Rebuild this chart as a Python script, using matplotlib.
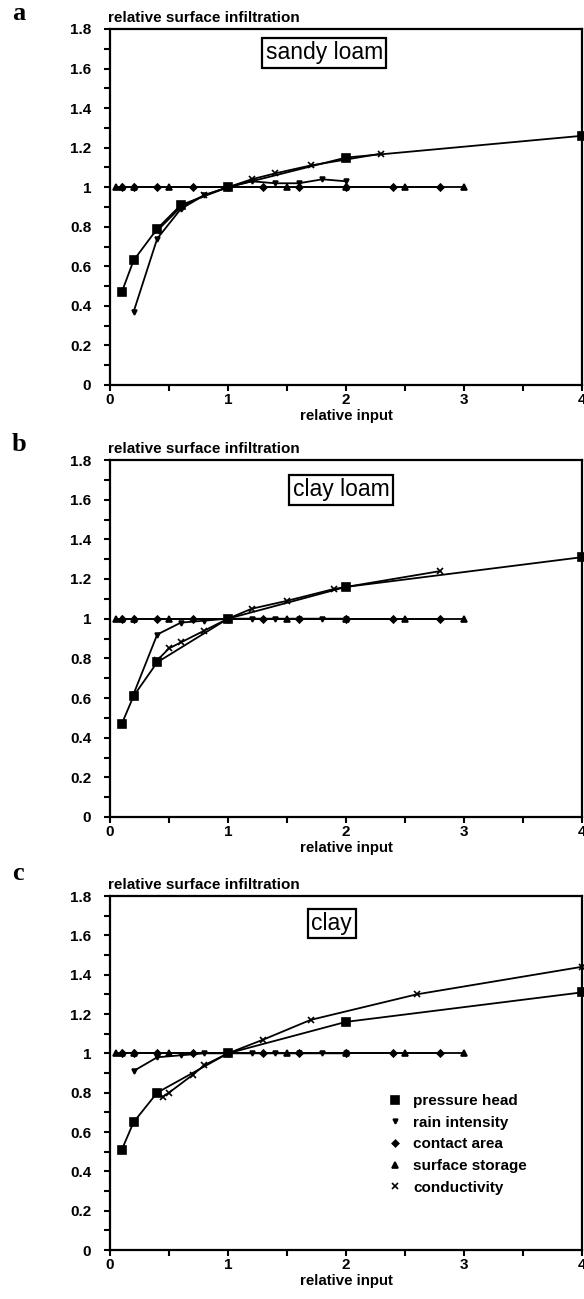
import matplotlib
matplotlib.use("Agg")
import matplotlib.pyplot as plt
from matplotlib.ticker import MultipleLocator, FixedLocator
from matplotlib.lines import Line2D

plt.rcParams['font.family'] = ['Liberation Sans', 'DejaVu Sans']

# ---------------- data ----------------
soils = ["sandy loam", "clay loam", "clay"]
panel_letters = ["a", "b", "c"]
series_names = ["pressure head", "rain intensity", "contact area", "surface storage", "conductivity"]

# panel a : sandy loam
a_pressure_x = [0.1, 0.2, 0.4, 0.6, 1.0, 2.0, 4.0]
a_pressure_y = [0.47, 0.63, 0.79, 0.91, 1.0, 1.15, 1.26]
a_rain_x = [0.2, 0.4, 0.6, 0.8, 1.0, 1.2, 1.4, 1.6, 1.8, 2.0]
a_rain_y = [0.37, 0.74, 0.89, 0.96, 1.0, 1.03, 1.02, 1.02, 1.04, 1.03]
a_contact_x = [0.1, 0.2, 0.4, 0.7, 1.0, 1.3, 1.6, 2.0, 2.4, 2.8]
a_contact_y = [1.0, 1.0, 1.0, 1.0, 1.0, 1.0, 1.0, 1.0, 1.0, 1.0]
a_storage_x = [0.05, 0.1, 0.2, 0.5, 1.0, 1.5, 2.0, 2.5, 3.0]
a_storage_y = [1.0, 1.0, 1.0, 1.0, 1.0, 1.0, 1.0, 1.0, 1.0]
a_cond_x = [0.4, 0.6, 0.8, 1.0, 1.2, 1.4, 1.7, 2.3]
a_cond_y = [0.78, 0.90, 0.96, 1.0, 1.04, 1.07, 1.11, 1.17]

# panel b : clay loam
b_pressure_x = [0.1, 0.2, 0.4, 1.0, 2.0, 4.0]
b_pressure_y = [0.47, 0.61, 0.78, 1.0, 1.16, 1.31]
b_rain_x = [0.2, 0.4, 0.6, 0.8, 1.0, 1.2, 1.4, 1.6, 1.8, 2.0]
b_rain_y = [0.62, 0.92, 0.98, 0.99, 1.0, 1.0, 1.0, 1.0, 1.0, 1.0]
b_contact_x = [0.1, 0.2, 0.4, 0.7, 1.0, 1.3, 1.6, 2.0, 2.4, 2.8]
b_contact_y = [1.0, 1.0, 1.0, 1.0, 1.0, 1.0, 1.0, 1.0, 1.0, 1.0]
b_storage_x = [0.05, 0.1, 0.2, 0.5, 1.0, 1.5, 2.0, 2.5, 3.0]
b_storage_y = [1.0, 1.0, 1.0, 1.0, 1.0, 1.0, 1.0, 1.0, 1.0]
b_cond_x = [0.4, 0.5, 0.6, 0.8, 1.0, 1.2, 1.5, 1.9, 2.8]
b_cond_y = [0.79, 0.85, 0.88, 0.94, 1.0, 1.05, 1.09, 1.15, 1.24]

# panel c : clay
c_pressure_x = [0.1, 0.2, 0.4, 1.0, 2.0, 4.0]
c_pressure_y = [0.51, 0.65, 0.80, 1.0, 1.16, 1.31]
c_rain_x = [0.2, 0.4, 0.6, 0.8, 1.0, 1.2, 1.4, 1.6, 1.8, 2.0]
c_rain_y = [0.91, 0.98, 0.99, 1.0, 1.0, 1.0, 1.0, 1.0, 1.0, 1.0]
c_contact_x = [0.1, 0.2, 0.4, 0.7, 1.0, 1.3, 1.6, 2.0, 2.4, 2.8]
c_contact_y = [1.0, 1.0, 1.0, 1.0, 1.0, 1.0, 1.0, 1.0, 1.0, 1.0]
c_storage_x = [0.05, 0.1, 0.2, 0.5, 1.0, 1.5, 2.0, 2.5, 3.0]
c_storage_y = [1.0, 1.0, 1.0, 1.0, 1.0, 1.0, 1.0, 1.0, 1.0]
c_cond_x = [0.45, 0.5, 0.7, 0.8, 1.0, 1.3, 1.7, 2.6, 4.0]
c_cond_y = [0.78, 0.80, 0.89, 0.94, 1.0, 1.07, 1.17, 1.30, 1.44]

x_ticks = [0, 1, 2, 3, 4]
y_ticks = [0, 0.2, 0.4, 0.6, 0.8, 1, 1.2, 1.4, 1.6, 1.8]
y_ticklabels = ["0", "0.2", "0.4", "0.6", "0.8", "1", "1.2", "1.4", "1.6", "1.8"]

panels = [
    [(a_pressure_x, a_pressure_y), (a_rain_x, a_rain_y), (a_contact_x, a_contact_y),
     (a_storage_x, a_storage_y), (a_cond_x, a_cond_y)],
    [(b_pressure_x, b_pressure_y), (b_rain_x, b_rain_y), (b_contact_x, b_contact_y),
     (b_storage_x, b_storage_y), (b_cond_x, b_cond_y)],
    [(c_pressure_x, c_pressure_y), (c_rain_x, c_rain_y), (c_contact_x, c_contact_y),
     (c_storage_x, c_storage_y), (c_cond_x, c_cond_y)],
]

# ---------------- styles ----------------
markers = ['s', 'v', 'D', '^', 'x']
msizes = [6, 3.5, 3.5, 4, 5]

W, H = 584, 1299
fig = plt.figure(figsize=(W / 100, H / 100), dpi=100)

# axes boxes in pixels: (left, top, right, bottom)
boxes = [(110, 29, 582, 385), (110, 460, 582, 817), (110, 896, 582, 1250)]
label_pos = [(1.815, 1.68), (1.96, 1.65), (1.88, 1.66)]
letter_pos = [(12, 13), (12, 444), (12, 874)]

for i, (l, t, r, b) in enumerate(boxes):
    ax = fig.add_axes([l / W, 1 - b / H, (r - l) / W, (b - t) / H])
    for k, (xs, ys) in enumerate(panels[i]):
        ax.plot(xs, ys, color='black', lw=1.3, marker=markers[k], ms=msizes[k],
                mec='black', mfc='black', mew=1.2, label=series_names[k], clip_on=False)
    ax.set_xlim(0, 4)
    ax.set_ylim(0, 1.8)
    ax.xaxis.set_major_locator(FixedLocator(x_ticks))
    ax.xaxis.set_minor_locator(MultipleLocator(0.5))
    ax.yaxis.set_major_locator(FixedLocator(y_ticks))
    ax.set_yticklabels(y_ticklabels)
    ax.yaxis.set_minor_locator(MultipleLocator(0.1))
    ax.tick_params(axis='both', which='both', direction='out', width=1.5, color='black')
    ax.tick_params(axis='both', which='major', length=4.5, labelsize=11)
    ax.tick_params(axis='y', which='major', pad=9)
    ax.tick_params(axis='x', which='major', pad=1)
    ax.tick_params(axis='both', which='minor', length=4)
    for lab in ax.get_xticklabels() + ax.get_yticklabels():
        lab.set_fontweight('bold')
    for sp in ax.spines.values():
        sp.set_linewidth(1.6)
    ax.text(-0.005, 1.012, "relative surface infiltration", transform=ax.transAxes,
            ha='left', va='bottom', fontsize=11, fontweight='bold')
    ax.text(0.5, -0.068, "relative input", transform=ax.transAxes,
            ha='center', va='top', fontsize=10.8, fontweight='bold')
    ax.text(label_pos[i][0], label_pos[i][1], soils[i], ha='center', va='center', fontsize=16.5,
            bbox=dict(boxstyle='square,pad=0.15', fc='white', ec='black', lw=1.6))
    fig.text(letter_pos[i][0] / W, 1 - letter_pos[i][1] / H, panel_letters[i],
             family=['Liberation Serif', 'DejaVu Serif'], fontweight='bold', fontsize=19,
             ha='left', va='center')
    if i == 2:
        handles = [Line2D([], [], ls='none', marker=markers[k], ms=msizes[k] * 0.95,
                          mec='black', mfc='black', mew=1.2, color='black')
                   for k in range(5)]
        leg = ax.legend(handles, series_names, loc='upper left',
                        bbox_to_anchor=(0.568, 0.471), frameon=False,
                        prop=dict(size=11, weight='bold'), handlelength=0.8,
                        handletextpad=0.8, labelspacing=0.5, borderpad=0.2)

fig.savefig("out.png", dpi=100)
